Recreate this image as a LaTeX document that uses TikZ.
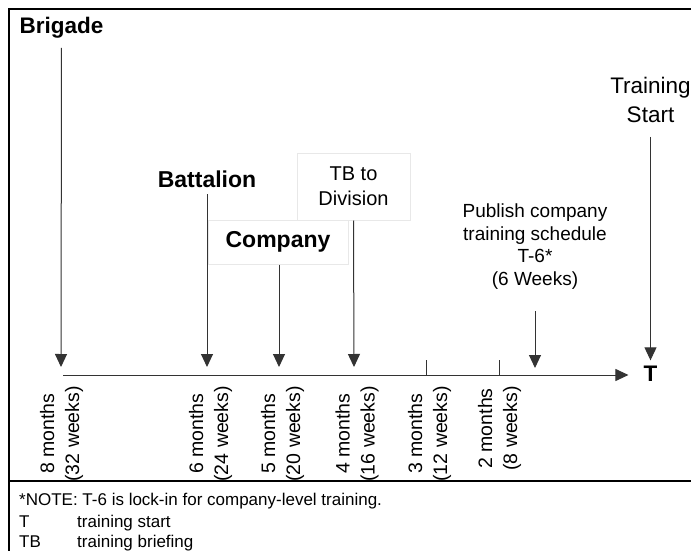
\documentclass[tikz,border=0pt]{standalone}
\usepackage{fontspec}
\setmainfont{Liberation Sans}
\usetikzlibrary{arrows.meta}
\begin{document}
\begin{tikzpicture}[x=1pt,y=-1pt,
  conn/.style={draw=black!80, line width=1pt, -{Triangle[length=13pt,width=12pt]}},
  tickline/.style={draw=black!80, line width=1pt},
  frame/.style={draw=black, line width=1.5pt},
  big/.style={font=\fontsize{22.5}{26}\selectfont\bfseries, inner sep=0pt, anchor=base},
  lab/.style={font=\fontsize{20}{25}\selectfont, align=center, inner sep=0pt},
  tl/.style={font=\fontsize{19.5}{25}\selectfont, rotate=90, anchor=east, align=center, inner sep=0pt},
  notetext/.style={font=\fontsize{17}{21}\selectfont, anchor=base west, inner sep=0pt},
  faint/.style={draw=black!9, fill=white, line width=1pt}]
\useasboundingbox (0,0) rectangle (691,551);
\fill[white] (0,0) rectangle (691,551);
% frame
\draw[frame] (9,551) -- (9,9) -- (691,9);
\draw[frame] (9,481) -- (691,481);

% boxes
\node[faint, lab, minimum width=140pt, minimum height=44pt,
      font=\fontsize{23}{26}\selectfont\bfseries] (company) at (278,242) {Company};
\node[faint, lab, minimum width=113pt, minimum height=67pt] (tb) at (353.5,186.5) {TB to\\Division};

% headings
\node[big] (brigade) at (61.5,34) {Brigade};
\node[big, font=\fontsize{23}{26}\selectfont\bfseries] (battalion) at (207,187) {Battalion};
\node[lab, font=\fontsize{22.5}{29}\selectfont] (train) at (650.5,100) {Training\\Start};
\node[big] (T) at (650.5,381) {T};
\node[lab, font=\fontsize{19}{22.5}\selectfont] (publish) at (535,246.5)
  {Publish company\\training schedule\\T-6*\\(6 Weeks)};

% timeline
\coordinate (origin) at (63,375);
\draw[conn] (origin) -- ([xshift=-15pt]origin -| T.west);

% arrow tips
\coordinate (tipB) at (61,367);
\coordinate (tipBn) at (207,367);
\coordinate (tipC) at (279,367);
\coordinate (tipTB) at (354,367);
\coordinate (tipP) at (535,368);

\draw[conn, shorten <=9pt] (brigade.south) -- (tipB);
\draw[conn, shorten <=7pt] (battalion.south) -- (tipBn);
\draw[conn] (company.south -| tipC) -- (tipC);
\draw[conn] (tb.south) -- (tipTB);
\draw[conn, shorten <=22pt] (publish.south) -- (tipP);
\draw[conn, shorten <=14pt, shorten >=5pt] (train.south) -- (T.north);

% ticks
\coordinate (t3) at (426,360);
\coordinate (t2) at (499,360);
\draw[tickline] (t3) -- (t3 |- origin);
\draw[tickline] (t2) -- (t2 |- origin);

% time labels
\node[tl] (l8) at (61.5,386) {8 months\\(32 weeks)};
\node[tl] (l6) at (210.5,386) {6 months\\(24 weeks)};
\node[tl] (l5) at (282.5,386) {5 months\\(20 weeks)};
\node[tl] (l4) at (357,386) {4 months\\(16 weeks)};
\node[tl] (l3) at (429.5,386) {3 months\\(12 weeks)};
\node[tl] (l2) at (499.5,386) {2 months\\(8 weeks)};

% notes
\node[notetext] (n1) at (19,505) {*NOTE: T-6 is lock-in for company-level training.};
\node[notetext] (n2) at (19,527) {T};
\node[notetext] (n2b) at (77,527) {training start};
\node[notetext] (n3) at (19,547) {TB};
\node[notetext] (n3b) at (77,547) {training briefing};
\end{tikzpicture}
\end{document}
